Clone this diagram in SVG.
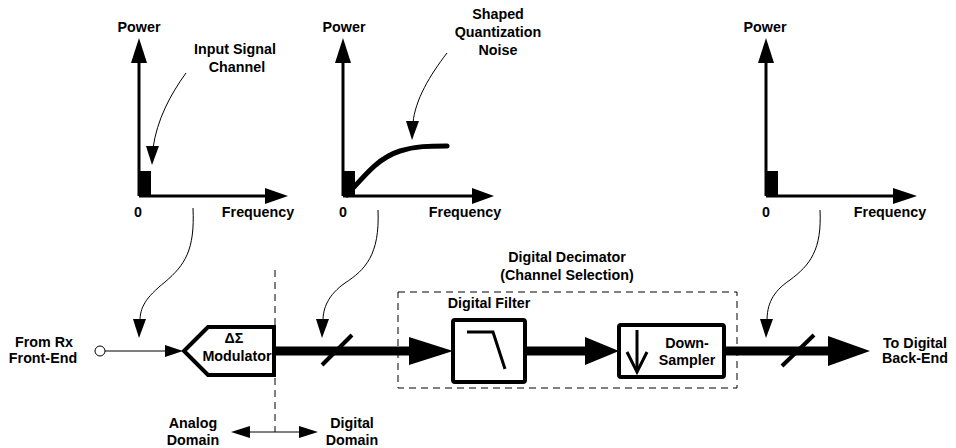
<svg xmlns="http://www.w3.org/2000/svg" width="956" height="448" viewBox="0 0 956 448">
<style>
text{font-family:"Liberation Sans",Arial,sans-serif;font-weight:bold;font-size:14.3px;fill:#000;text-anchor:middle}
.ax{stroke:#000;stroke-width:3;fill:none}
.thin{stroke:#000;stroke-width:1;fill:none}
.bus{stroke:#000;stroke-width:9;fill:none}
.box{stroke:#000;stroke-width:4;fill:#fff}
.dash{stroke:#000;stroke-width:1;fill:none;stroke-dasharray:7,5}
.blk{fill:#000;stroke:none}
</style>
<rect width="956" height="448" fill="#fff"/>
<g id="plot-input">
<line class="ax" x1="139" y1="60" x2="139" y2="196"/>
<line class="ax" x1="139" y1="196" x2="268" y2="196"/>
<polygon class="blk" points="139,38 131,63 147,63"/>
<polygon class="blk" points="288,196 265,188 265,204"/>
<rect class="blk" x="139" y="171" width="12" height="25"/>
<text x="139" y="32">Power</text>
<text x="138" y="217">0</text>
<text x="258" y="217">Frequency</text>
<text x="235" y="54">Input Signal</text>
<text x="237" y="72">Channel</text>
</g>
<g id="plot-modulator">
<line class="ax" x1="343" y1="60" x2="343" y2="196"/>
<line class="ax" x1="343" y1="196" x2="476" y2="196"/>
<polygon class="blk" points="343,38 335,63 351,63"/>
<polygon class="blk" points="494,196 472,188 472,204"/>
<rect class="blk" x="343" y="171" width="12" height="25"/>
<path d="M347,195 C365,175 378,158 400,151 C415,146 430,146 447,146" stroke="#000" stroke-width="5" fill="none" stroke-linecap="round"/>
<text x="344" y="32">Power</text>
<text x="343" y="217">0</text>
<text x="465" y="217">Frequency</text>
<text x="498" y="19">Shaped</text>
<text x="498" y="37">Quantization</text>
<text x="498" y="55">Noise</text>
</g>
<g id="plot-output">
<line class="ax" x1="766" y1="60" x2="766" y2="196"/>
<line class="ax" x1="766" y1="196" x2="896" y2="196"/>
<polygon class="blk" points="766,38 758,63 774,63"/>
<polygon class="blk" points="917,196 893,188 893,204"/>
<rect class="blk" x="766" y="171" width="12" height="25"/>
<text x="765" y="32">Power</text>
<text x="766" y="217">0</text>
<text x="890" y="217">Frequency</text>
</g>
<g id="source">
<circle cx="100" cy="351" r="5" fill="#fff" stroke="#000" stroke-width="1"/>
<text x="44" y="347">From Rx</text>
<text x="43" y="363">Front-End</text>
</g>
<g id="modulator">
<polygon class="box" points="184,351 208,327 274,327 274,375 208,375"/>
<text x="234" y="343">ΔΣ</text>
<text x="237" y="361">Modulator</text>
</g>
<g id="decimator">
<rect class="dash" x="398" y="292" width="339" height="96"/>
<text x="567" y="262">Digital Decimator</text>
<text x="567" y="280">(Channel Selection)</text>
</g>
<g id="digital-filter">
<rect class="box" x="453" y="320" width="72" height="62" rx="2"/>
<polyline points="467,332 493,332 505,369" stroke="#000" stroke-width="3" fill="none"/>
<text x="489" y="308">Digital Filter</text>
</g>
<g id="down-sampler">
<rect class="box" x="619" y="325" width="105" height="52" rx="2"/>
<line x1="637" y1="330" x2="637" y2="371" stroke="#000" stroke-width="3"/>
<polyline points="627,352 637,372 647,352" stroke="#000" stroke-width="3" fill="none"/>
<text x="687" y="348">Down-</text>
<text x="687" y="365">Sampler</text>
</g>
<g id="sink">
<text x="915" y="348">To Digital</text>
<text x="915" y="363">Back-End</text>
</g>
<g id="domains">
<line class="dash" x1="275" y1="270" x2="275" y2="432" stroke-dasharray="6,4"/>
<line class="thin" x1="245" y1="432" x2="305" y2="432"/>
<polygon class="blk" points="231,432 250,426 250,438"/>
<polygon class="blk" points="318,432 299,426 299,438"/>
<text x="193" y="428">Analog</text>
<text x="193" y="445">Domain</text>
<text x="352" y="428">Digital</text>
<text x="352" y="445">Domain</text>
</g>
<g id="connectors">
<line x1="105" y1="351" x2="168" y2="351" stroke="#000" stroke-width="1"/>
<polygon class="blk" points="183,351 165,345 165,357"/>
<line class="bus" x1="274" y1="351" x2="412" y2="351"/>
<polygon class="blk" points="453,351 409,337 409,365"/>
<line class="bus" x1="525" y1="351" x2="588" y2="351"/>
<polygon class="blk" points="619,351 585,337 585,365"/>
<line class="bus" x1="724" y1="351" x2="831" y2="351"/>
<polygon class="blk" points="870,351 828,336 828,366"/>
<line x1="322" y1="365" x2="352" y2="335" stroke="#000" stroke-width="4"/>
<line x1="782" y1="366" x2="814" y2="335" stroke="#000" stroke-width="4"/>
<path class="thin" d="M186,73 C170,95 157,120 153,148"/>
<polygon class="blk" points="152,165 146,146 159,146"/>
<path class="thin" d="M447,53 C430,75 415,100 413,123"/>
<polygon class="blk" points="412,140 406,121 419,121"/>
<path class="thin" d="M193,208 C195,250 185,265 165,282 C145,298 140,308 140,321"/>
<polygon class="blk" points="139,338 133,319 146,319"/>
<path class="thin" d="M378,210 C380,255 365,270 345,283 C328,295 323,308 323,321"/>
<polygon class="blk" points="322,338 316,319 329,319"/>
<path class="thin" d="M820,210 C822,250 810,265 790,280 C772,292 767,305 767,321"/>
<polygon class="blk" points="766,338 760,319 773,319"/>
</g>
</svg>
